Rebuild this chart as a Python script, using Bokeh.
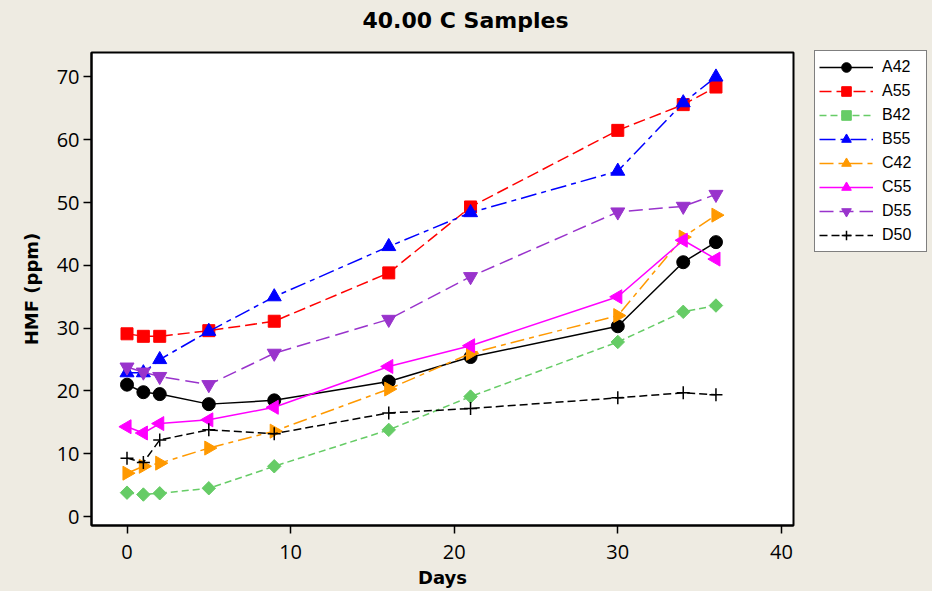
import math
from bokeh.plotting import figure
from bokeh.models import Range1d, Legend, LegendItem, FixedTicker, Title
from bokeh.embed import file_html
from bokeh.resources import INLINE

# ---- data ----
days = [0, 1, 2, 5, 9, 16, 21, 30, 34, 36]
a42 = [21.0, 19.8, 19.5, 17.9, 18.5, 21.5, 25.4, 30.3, 40.5, 43.7]
a55 = [29.1, 28.7, 28.7, 29.6, 31.1, 38.8, 49.3, 61.5, 65.6, 68.4]
b42 = [3.8, 3.5, 3.7, 4.5, 8.0, 13.8, 19.1, 27.8, 32.6, 33.6]
b55 = [22.9, 22.9, 25.0, 29.5, 35.0, 43.0, 48.4, 55.0, 65.9, 70.0]
c42 = [6.9, 8.0, 8.5, 10.9, 13.6, 20.3, 26.0, 32.0, 44.5, 48.0]
c55 = [14.3, 13.3, 14.8, 15.4, 17.4, 23.9, 27.2, 35.0, 44.0, 41.0]
d55 = [23.8, 23.0, 22.3, 21.0, 26.0, 31.4, 38.2, 48.5, 49.4, 51.3]
d50 = [9.3, 8.6, 12.2, 13.8, 13.2, 16.5, 17.2, 18.9, 19.7, 19.4]

labels = ["A42", "A55", "B42", "B55", "C42", "C55", "D55", "D50"]
x_ticks = [0, 10, 20, 30, 40]
y_ticks = [0, 10, 20, 30, 40, 50, 60, 70]

BG = "#EEEBE2"

p = figure(frame_width=702, frame_height=473,
           output_backend="svg", toolbar_location=None,
           x_range=Range1d(-2.17, 40.74), y_range=Range1d(-1.43, 73.9),
           min_border_left=91, min_border_right=139, min_border_top=52,
           min_border_bottom=66)
p.background_fill_color = "white"
p.border_fill_color = BG
p.outline_line_color = "black"
p.outline_line_width = 2
p.xgrid.visible = False
p.ygrid.visible = False

# thin blank spacer between the frame and the title
p.add_layout(Title(text=" ", text_font_size="12px", standoff=0), "above")

p.title.text = "40.00 C Samples"
p.title.text_font = "DejaVu Sans"
p.title.text_font_style = "bold"
p.title.text_font_size = "22px"
p.title.align = "left"
p.title.offset = 271
p.title.standoff = 8
p.title.text_color = "black"

for ax, ticks in ((p.xaxis[0], x_ticks), (p.yaxis[0], y_ticks)):
    ax.ticker = FixedTicker(ticks=ticks)
    ax.minor_tick_line_color = None
    ax.major_tick_in = 0
    ax.major_tick_out = 8
    ax.major_tick_line_width = 1.5
    ax.axis_line_width = 2
    ax.major_label_text_font = "Open Sans"
    ax.major_label_text_font_size = "20px"
    ax.major_label_text_color = "black"
    ax.axis_label_text_font = "DejaVu Sans"
    ax.axis_label_text_font_style = "bold"
    ax.axis_label_text_font_size = "18px"
    ax.axis_label_text_color = "black"

p.xaxis.axis_label = "Days"
p.yaxis.axis_label = "HMF (ppm)"
p.xaxis.major_label_standoff = 11
p.xaxis.axis_label_standoff = 5
p.yaxis.major_label_standoff = 4
p.yaxis.axis_label_standoff = 12

series = [
    # label, values, color, dash, marker, size, angle
    ("A42", a42, "black", "solid", "circle", 13, 0.0),
    ("A55", a55, "#FF0000", "12 5", "square", 12, 0.0),
    ("B42", b42, "#66CC66", "7 4", "square", 9.5, math.pi / 4),
    ("B55", b55, "#0000FF", "16 5 5 5", "triangle", 14, 0.0),
    ("C42", c42, "#FF9900", "14 5 5 5", "triangle", 14, -math.pi / 2),
    ("C55", c55, "#FF00FF", "solid", "triangle", 14, math.pi / 2),
    ("D55", d55, "#9933CC", "14 6", "inverted_triangle", 14, 0.0),
    ("D50", d50, "black", "8 4", "cross", 13, 0.0),
]

items = []
for lab, vals, col, dash, mk, sz, ang in series:
    lr = p.line(days, vals, line_color=col, line_width=1.5, line_dash=dash)
    if mk == "cross":
        sr = p.scatter(days, vals, marker=mk, size=sz, line_color=col,
                       line_width=1.5)
    else:
        sr = p.scatter(days, vals, marker=mk, size=sz, angle=ang,
                       fill_color=col, line_color=col)
    items.append(LegendItem(label=lab, renderers=[lr, sr]))

legend = Legend(items=items, location=(21, 273),
                padding=4, spacing=0, margin=0,
                glyph_width=54, glyph_height=24, label_height=24,
                label_width=40, label_standoff=9,
                label_text_font="Liberation Sans", label_text_font_size="16px",
                label_text_color="black",
                border_line_color="black", border_line_width=1.5,
                background_fill_color="white", background_fill_alpha=1.0)
p.add_layout(legend, "right")

html = file_html(p, INLINE)
html = html.replace("</head>", "<style>html, body {background: %s;}</style></head>" % BG, 1)
open("out.html", "w").write(html)
